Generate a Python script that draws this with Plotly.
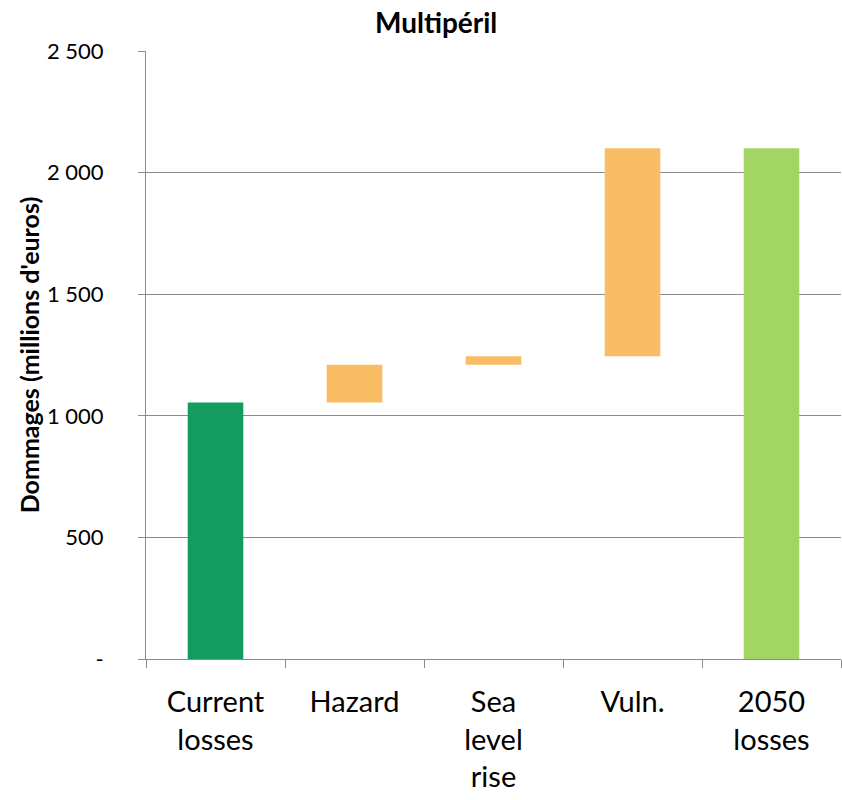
import plotly.graph_objects as go

# Waterfall of multi-peril losses: current level, contributions, 2050 level
categories = ["Current<br>losses", "Hazard", "Sea<br>level<br>rise", "Vuln.", "2050<br>losses"]
current_losses = 1055
increments = [155, 35, 855]          # hazard, sea level rise, vulnerability
y_tickvals = [0, 500, 1000, 1500, 2000, 2500]
y_ticktext = ["-", "500", "1 000", "1 500", "2 000", "2 500"]

colors = ["#149B5E", "#F9BD64", "#F9BD64", "#F9BD64", "#A2D563"]

# floating bars: each step starts where the previous one ended
bases = [0]
heights = [current_losses]
level = current_losses
for inc in increments:
    bases.append(level)
    heights.append(inc)
    level += inc
bases.append(0)
heights.append(level)

grid = "#8C8C8C"

fig = go.Figure(go.Bar(
    x=categories,
    y=heights,
    base=bases,
    marker=dict(color=colors, line=dict(width=0)),
    width=0.4,
    hoverinfo="skip",
))

fig.update_layout(
    width=842,
    height=800,
    margin=dict(l=146, r=1, t=51, b=141, autoexpand=False),
    paper_bgcolor="white",
    plot_bgcolor="white",
    showlegend=False,
    title=dict(
        text="<b>Multipéril</b>",
        x=0.518, xanchor="center",
        y=0.971, yanchor="middle",
        font=dict(family="Lato", size=28, color="black"),
    ),
    font=dict(family="Lato", color="black"),
)

fig.update_yaxes(
    range=[0, 2500],
    automargin=False,
    tickvals=y_tickvals,
    ticktext=y_ticktext,
    tickfont=dict(family="Lato", size=22, color="black"),
    ticks="outside", ticklen=7, tickcolor=grid, tickwidth=1,
    ticklabelstandoff=30,
    showgrid=True, gridcolor=grid, gridwidth=1,
    showline=True, linecolor=grid, linewidth=1,
    zeroline=False,
    title=dict(
        text="<b>Dommages (millions d'euros)</b>",
        font=dict(family="Lato", size=25, color="black"),
        standoff=0,
    ),
)

fig.update_xaxes(
    type="category",
    automargin=False,
    tickson="boundaries",
    ticks="outside", ticklen=8, tickcolor=grid, tickwidth=1,
    tickfont=dict(family="Lato", size=29, color="black"),
    ticklabelstandoff=17,
    showline=True, linecolor=grid, linewidth=1,
    showgrid=False,
)

fig.write_html("out.html")
